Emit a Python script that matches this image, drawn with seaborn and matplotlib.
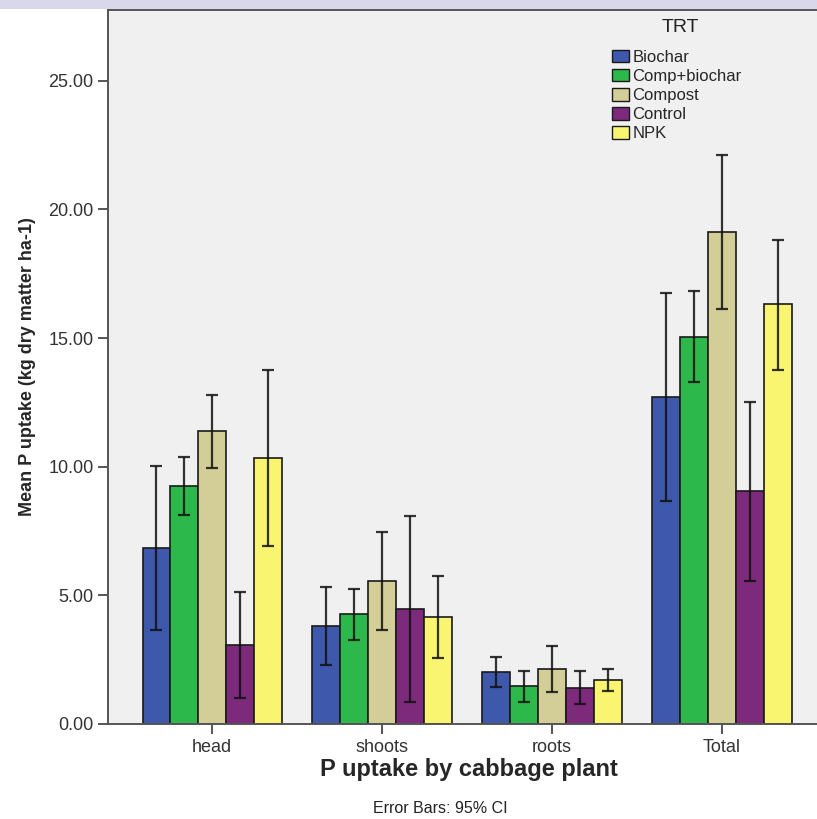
import matplotlib
matplotlib.use('Agg')
import matplotlib.pyplot as plt
from matplotlib.patches import Patch, Rectangle
import seaborn as sns
import pandas as pd
import numpy as np

# P uptake means and 95% CI bounds
parts = ['head', 'shoots', 'roots', 'Total']
treatments = ['Biochar', 'Comp+biochar', 'Compost', 'Control', 'NPK']
colors = ['#3E58AC', '#2DB84B', '#D3CE97', '#7D2A7D', '#FAF570']

mean_biochar = [6.83, 3.81, 2.01, 12.72]
mean_compbio = [9.25, 4.26, 1.47, 15.05]
mean_compost = [11.37, 5.57, 2.14, 19.13]
mean_control = [3.07, 4.47, 1.40, 9.04]
mean_npk = [10.33, 4.15, 1.72, 16.31]

lo_biochar = [3.65, 2.29, 1.43, 8.67]
lo_compbio = [8.11, 3.27, 0.87, 13.29]
lo_compost = [9.95, 3.65, 1.23, 16.14]
lo_control = [1.00, 0.87, 0.79, 5.56]
lo_npk = [6.92, 2.58, 1.29, 13.77]

hi_biochar = [10.03, 5.34, 2.59, 16.75]
hi_compbio = [10.39, 5.25, 2.07, 16.82]
hi_compost = [12.79, 7.48, 3.04, 22.11]
hi_control = [5.14, 8.09, 2.05, 12.52]
hi_npk = [13.76, 5.74, 2.15, 18.82]

means = [mean_biochar, mean_compbio, mean_compost, mean_control, mean_npk]
lows = [lo_biochar, lo_compbio, lo_compost, lo_control, lo_npk]
highs = [hi_biochar, hi_compbio, hi_compost, hi_control, hi_npk]

rows = []
for t, m in zip(treatments, means):
    for p, v in zip(parts, m):
        rows.append({'part': p, 'TRT': t, 'mean': v})
df = pd.DataFrame(rows)

sns.set_style("white")
plt.rcParams['font.family'] = ['Liberation Sans', 'DejaVu Sans']

fig = plt.figure(figsize=(8.17, 8.19), dpi=100)
ax = fig.add_axes([0.1322, 0.116, 0.8678, 0.8718])
ax.set_facecolor('#F0F0F0')

sns.barplot(data=df, x='part', y='mean', hue='TRT', order=parts,
            hue_order=treatments, palette=colors, width=0.818,
            edgecolor='#1a1a1a', linewidth=1.2, errorbar=None,
            saturation=1, legend=False, ax=ax)

# 95% CI error bars at each bar centre
for cont, m, lo, hi in zip(ax.containers, means, lows, highs):
    xs = [b.get_x() + b.get_width() / 2 for b in cont]
    m = np.array(m)
    yerr = [m - np.array(lo), np.array(hi) - m]
    ax.errorbar(xs, m, yerr=yerr, fmt='none', ecolor='#111111',
                elinewidth=1.6, capsize=4, capthick=1.6, alpha=0.85)

ax.set_xlim(-0.612, 3.559)
ax.set_ylim(0, 27.75)
ax.set_yticks([0, 5, 10, 15, 20, 25])
ax.set_yticklabels(['0.00', '5.00', '10.00', '15.00', '20.00', '25.00'])
ax.tick_params(axis='both', length=7, width=1.4, color='#555555',
               labelcolor='#333333', labelsize=13, left=True, bottom=True)
ax.set_xlabel('P uptake by cabbage plant', fontsize=17, fontweight='bold')
ax.xaxis.set_label_coords(0.509, -0.047)
ax.set_ylabel('Mean P uptake (kg dry matter ha-1)', fontsize=13,
              fontweight='bold')
ax.yaxis.set_label_coords(-0.102, 0.5)

for side in ['left', 'bottom', 'top']:
    ax.spines[side].set_color('#555555')
    ax.spines[side].set_linewidth(1.4)
ax.spines['right'].set_visible(False)

handles = [Patch(facecolor=c, edgecolor='#1a1a1a', label=t)
           for c, t in zip(colors, treatments)]
leg = ax.legend(handles=handles, frameon=False, fontsize=12,
                loc='upper left', bbox_to_anchor=(0.702, 0.954),
                handlelength=1.0, handleheight=0.8, handletextpad=0.2,
                labelspacing=0.24, borderaxespad=0)
ax.text(0.807, 0.975, 'TRT', transform=ax.transAxes, fontsize=14,
        color='#222222', ha='center', va='center')

fig.text(0.5386, 0.0134, 'Error Bars: 95% CI', fontsize=11.5,
         color='#222222', ha='center', va='center')

# faint band at the very top of the image
fig.patches.append(Rectangle((0, 0.989), 1, 0.011, transform=fig.transFigure,
                             facecolor='#D8D8EA', edgecolor='none'))

fig.savefig('out.png', dpi=100)
